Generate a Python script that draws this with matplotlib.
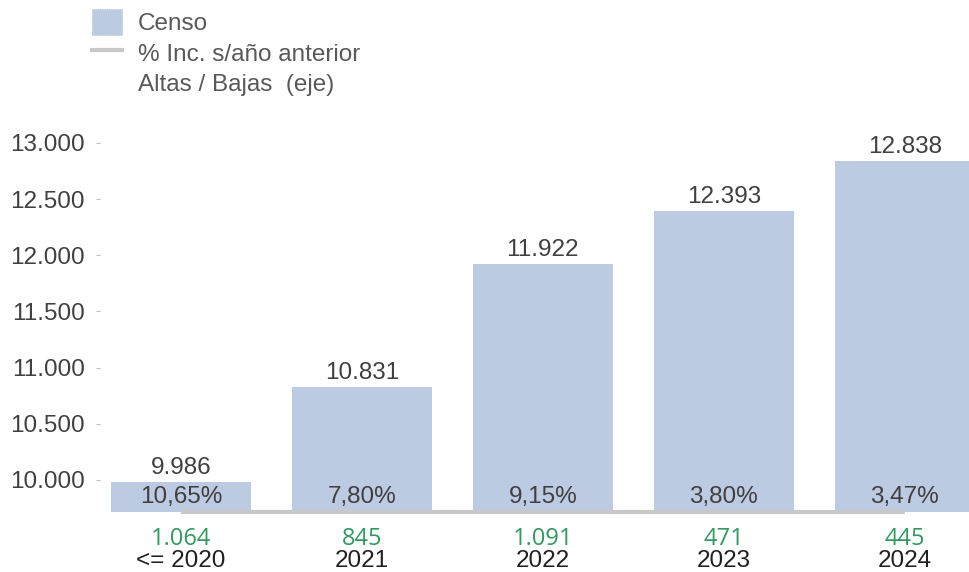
import matplotlib.pyplot as plt
from matplotlib.patches import Patch
from matplotlib.lines import Line2D

# =============================================================================
# DATA
# =============================================================================
years = ["<= 2020", "2021", "2022", "2023", "2024"]
censo = [9986, 10831, 11922, 12393, 12838]
pct_inc = [10.65, 7.80, 9.15, 3.80, 3.47]
altas_bajas = [1064, 845, 1091, 471, 445]
y_ticks = [10000, 10500, 11000, 11500, 12000, 12500, 13000]


def fmt_int(v):
    return f"{v:,}".replace(",", ".")


def fmt_pct(v):
    return f"{v:.2f}%".replace(".", ",")


# =============================================================================
# PLOTTING
# =============================================================================
plt.rcParams['font.family'] = ['Liberation Sans', 'DejaVu Sans']

bar_color = '#bccbe1'
line_color = '#c8c8c8'
text_color = '#404040'
green = '#2e9a5e'
fs = 17.5

fig = plt.figure(figsize=(9.7, 5.72), dpi=100)
ax = fig.add_axes([100 / 970, 1 - 512 / 572, 870 / 970, 382 / 572])

x = list(range(len(years)))
ax.bar(x, censo, width=0.775, color=bar_color, zorder=2)

ax.set_ylim(9715, 13115)
ax.set_xlim(-0.447, 4.36)

# value labels above bars
for xi, v in zip(x, censo):
    ax.annotate(fmt_int(v), (xi, v), textcoords="offset points", xytext=(0, 2),
                ha='center', va='bottom', fontsize=fs, color=text_color)

# percent labels inside bars
for xi, p in zip(x, pct_inc):
    ax.text(xi, 0.038, fmt_pct(p), transform=ax.get_xaxis_transform(),
            ha='center', va='center', fontsize=fs, color=text_color, zorder=4)

# altas / bajas and year labels under the axis
for xi, a, yr in zip(x, altas_bajas, years):
    ax.text(xi, -0.071, fmt_int(a), transform=ax.get_xaxis_transform(),
            ha='center', va='center', fontsize=17, color=green,
            family=['Open Sans', 'DejaVu Sans'])
    ax.text(xi, -0.127, yr, transform=ax.get_xaxis_transform(),
            ha='center', va='center', fontsize=fs, color='#202020')

# % increase line on hidden secondary axis (practically flat at the bottom)
ax2 = ax.twinx()
ax2.plot(x, pct_inc, color=line_color, linewidth=3, clip_on=False,
         solid_capstyle='butt', zorder=5)
ax2.set_ylim(0, 100000)
ax2.axis('off')

# axis styling
ax.set_yticks(y_ticks)
ax.set_yticklabels([fmt_int(t) for t in y_ticks], fontsize=fs, color=text_color)
ax.tick_params(axis='y', length=3, color='#bfbfbf', pad=8)
ax.set_xticks([])
for s in ax.spines.values():
    s.set_visible(False)

# legend
handles = [
    Patch(facecolor=bar_color, edgecolor='#a8b8d0', linewidth=0.6, linestyle=':'),
    Line2D([0], [0], color=line_color, linewidth=3),
    Line2D([0], [0], color='none'),
]
labels = ["Censo", "% Inc. s/año anterior", "Altas / Bajas  (eje)"]
fig.legend(handles, labels, loc='upper left', bbox_to_anchor=(92 / 970, 1 - 9 / 572),
           frameon=False, fontsize=fs, labelcolor='#595959',
           handlelength=1.23, handleheight=1.3, handletextpad=0.66,
           labelspacing=0.15, borderaxespad=0, borderpad=0)

plt.savefig('out.png', dpi=100)
